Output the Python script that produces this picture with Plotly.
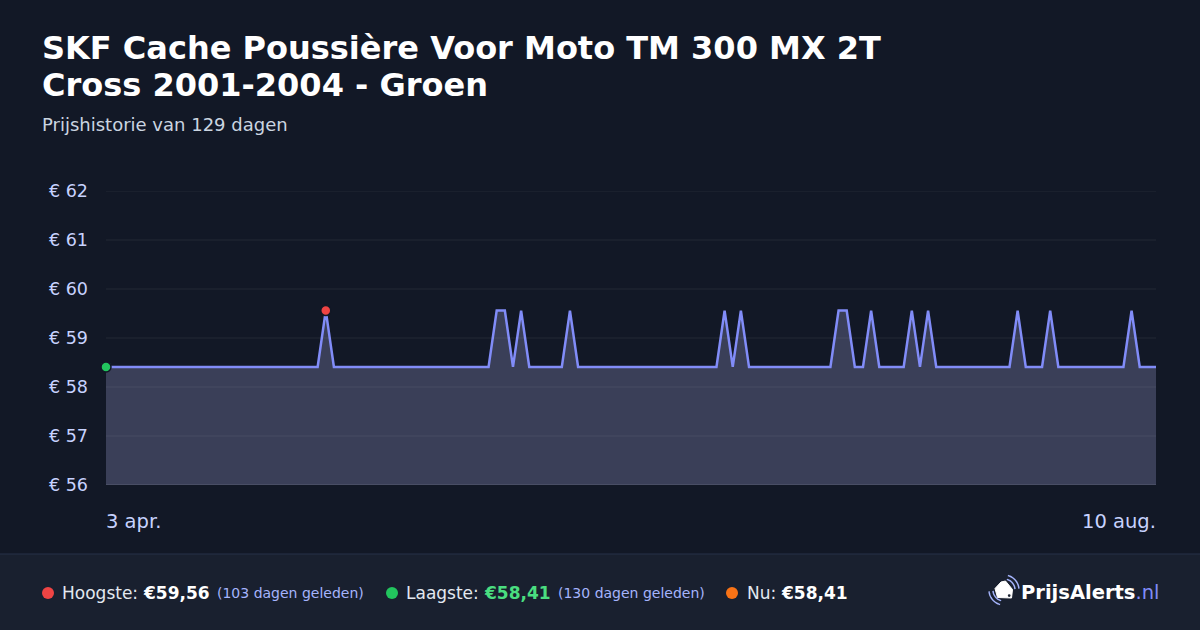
import math
import pandas as pd
import plotly.graph_objects as go

# ---------------- data ----------------
L, H = 58.41, 59.56
prices = [
    L, L, L, L, L, L, L, L, L, L,
    L, L, L, L, L, L, L, L, L, L,
    L, L, L, L, L, L, L, H, L, L,
    L, L, L, L, L, L, L, L, L, L,
    L, L, L, L, L, L, L, L, H, H,
    L, H, L, L, L, L, L, H, L, L,
    L, L, L, L, L, L, L, L, L, L,
    L, L, L, L, L, L, H, L, H, L,
    L, L, L, L, L, L, L, L, L, L,
    H, H, L, L, H, L, L, L, L, H,
    L, H, L, L, L, L, L, L, L, L,
    L, L, H, L, L, L, H, L, L, L,
    L, L, L, L, L, L, H, L, L, L,
]
start_date = "2025-04-03"
dates = pd.date_range(start_date, periods=len(prices), freq="D")
y_ticks = [56, 57, 58, 59, 60, 61, 62]
x_labels = ["3 apr.", "10 aug."]
title_lines = ["SKF Cache Poussière Voor Moto TM 300 MX 2T", "Cross 2001-2004 - Groen"]
subtitle = "Prijshistorie van 129 dagen"
high_idx = 27
low_idx = 0

# ---------------- style ----------------
BG = "#121826"
FOOT = "#19202f"
LINE = "#818cf8"
FILL = "#3a3f58"
TICK = "#c7d2fe"
FONT = "DejaVu Sans"

W, Hh = 1200, 630
L_PX, R_PX, T_PX, B_PX = 106, 1156, 191, 485


def px(x):
    return (x - L_PX) / (R_PX - L_PX)


def py(y):
    return (B_PX - y) / (B_PX - T_PX)


fig = go.Figure()
fig.add_trace(go.Scatter(
    x=dates, y=prices, mode="lines",
    line=dict(color=LINE, width=2.5, shape="linear"),
    fill="tozeroy", fillcolor=FILL, hoverinfo="skip", showlegend=False,
))
fig.add_trace(go.Scatter(
    x=[dates[high_idx]], y=[prices[high_idx]], mode="markers",
    marker=dict(color="#ef4444", size=10, line=dict(color=BG, width=1.5)),
    showlegend=False, hoverinfo="skip",
))
fig.add_trace(go.Scatter(
    x=[dates[low_idx]], y=[prices[low_idx]], mode="markers",
    marker=dict(color="#22c55e", size=10, line=dict(color=BG, width=1.5)),
    showlegend=False, hoverinfo="skip", cliponaxis=False,
))

shapes = []
# footer band
shapes.append(dict(type="rect", xref="paper", yref="paper",
                   x0=px(-5), x1=px(1205), y0=py(640), y1=py(554),
                   fillcolor=FOOT, line=dict(width=0), layer="below"))
shapes.append(dict(type="line", xref="paper", yref="paper",
                   x0=px(-5), x1=px(1205), y0=py(554), y1=py(554),
                   line=dict(color="#263048", width=1.2), layer="below"))
# gridlines above fill
for t in y_ticks:
    shapes.append(dict(type="line", xref="paper", yref="y",
                       x0=0, x1=1, y0=t, y1=t,
                       line=dict(color="rgba(255,255,255,0.075)" if t != y_ticks[0] else "rgba(255,255,255,0.16)", width=1.2),
                       layer="above"))

# logo icon (tag + signal arcs)
tag = [(1001, 582), (995, 588.5), (997.5, 597.5), (1011.5, 598), (1012.5, 589.5), (1005.5, 581)]
path = "M " + " L ".join(f"{px(x)},{py(y)}" for x, y in tag) + " Z"
shapes.append(dict(type="path", xref="paper", yref="paper", path=path,
                   fillcolor="#ffffff", line=dict(color="#ffffff", width=1)))
shapes.append(dict(type="circle", xref="paper", yref="paper",
                   x0=px(1007.8), x1=px(1010.6), y0=py(597.0), y1=py(594.2),
                   fillcolor=FOOT, line=dict(width=0)))


def arc(cx, cy, r, a0, a1, n=16):
    pts = []
    for i in range(n + 1):
        a = math.radians(a0 + (a1 - a0) * i / n)
        pts.append((cx + r * math.cos(a), cy - r * math.sin(a)))
    return "M " + " L ".join(f"{px(x)},{py(y)}" for x, y in pts)


for r in (11, 15):
    shapes.append(dict(type="path", xref="paper", yref="paper",
                       path=arc(1004, 590, r, 5, 75),
                       line=dict(color="#a5b4fc", width=1.5)))
    shapes.append(dict(type="path", xref="paper", yref="paper",
                       path=arc(1004, 590, r, 185, 255),
                       line=dict(color="#a5b4fc", width=1.5)))

ann = []
# titles
for line_text, yc in zip(title_lines, (48, 85)):
    ann.append(dict(text="<b>" + line_text + "</b>",
                    xref="paper", yref="paper", x=px(40), y=py(yc), xanchor="left", yanchor="middle",
                    showarrow=False, align="left",
                    font=dict(family=FONT, size=32, color="#ffffff")))
ann.append(dict(text=subtitle, xref="paper", yref="paper", x=px(40), y=py(124),
                xanchor="left", yanchor="middle", showarrow=False,
                font=dict(family=FONT, size=18, color="#cbd5e1")))
# x labels
ann.append(dict(text=x_labels[0], xref="x", yref="paper", x=dates[0], y=py(521),
                xanchor="left", yanchor="middle", showarrow=False, xshift=-2,
                font=dict(family=FONT, size=19.5, color=TICK)))
ann.append(dict(text=x_labels[1], xref="x", yref="paper", x=dates[-1], y=py(521),
                xanchor="right", yanchor="middle", showarrow=False, xshift=2,
                font=dict(family=FONT, size=19.5, color=TICK)))


def fa(text, x, size, color, bold=False):
    ann.append(dict(text=("<b>" + text + "</b>") if bold else text,
                    xref="paper", yref="paper", x=px(x), y=py(593),
                    xanchor="left", yanchor="middle", showarrow=False,
                    font=dict(family=FONT, size=size, color=color)))


def dot(x, color):
    shapes.append(dict(type="circle", xref="paper", yref="paper",
                       x0=px(x - 6), x1=px(x + 6), y0=py(599), y1=py(587),
                       fillcolor=color, line=dict(width=0)))


dot(48, "#ef4444")
fa("Hoogste:", 60, 17, "#e2e8f0")
fa("€59,56", 141, 17, "#ffffff", bold=True)
fa("(103 dagen geleden)", 215, 14, "#a5b4fc")
dot(392, "#22c55e")
fa("Laagste:", 404, 17, "#e2e8f0")
fa("€58,41", 482, 17, "#4ade80", bold=True)
fa("(130 dagen geleden)", 556, 14, "#a5b4fc")
dot(732, "#f97316")
fa("Nu:", 745, 17, "#e2e8f0")
fa("€58,41", 779, 17, "#ffffff", bold=True)
ann.append(dict(text="<b>PrijsAlerts</b><span style='color:#818cf8'>.nl</span>",
                xref="paper", yref="paper", x=px(1019), y=py(592),
                xanchor="left", yanchor="middle", showarrow=False,
                font=dict(family=FONT, size=19.5, color="#ffffff")))

fig.update_layout(
    width=W, height=Hh,
    margin=dict(l=L_PX, r=W - R_PX, t=T_PX, b=Hh - B_PX, pad=0),
    paper_bgcolor=BG, plot_bgcolor=BG,
    shapes=shapes, annotations=ann,
    showlegend=False,
    xaxis=dict(type="date", range=[dates[0], dates[-1]], showgrid=False, zeroline=False,
               showticklabels=False, showline=False, ticks="", fixedrange=True),
    yaxis=dict(range=[y_ticks[0], y_ticks[-1]], tickvals=y_ticks,
               ticktext=[f"€ {t}" for t in y_ticks],
               showgrid=False, zeroline=False, showline=False, ticks="",
               ticklabelstandoff=17, fixedrange=True,
               tickfont=dict(family=FONT, size=17.5, color=TICK)),
)

fig.write_html(
    "out.html",
    config={"displayModeBar": False, "staticPlot": True},
    post_script="document.body.style.margin='0';document.body.style.background='#121826';",
)
